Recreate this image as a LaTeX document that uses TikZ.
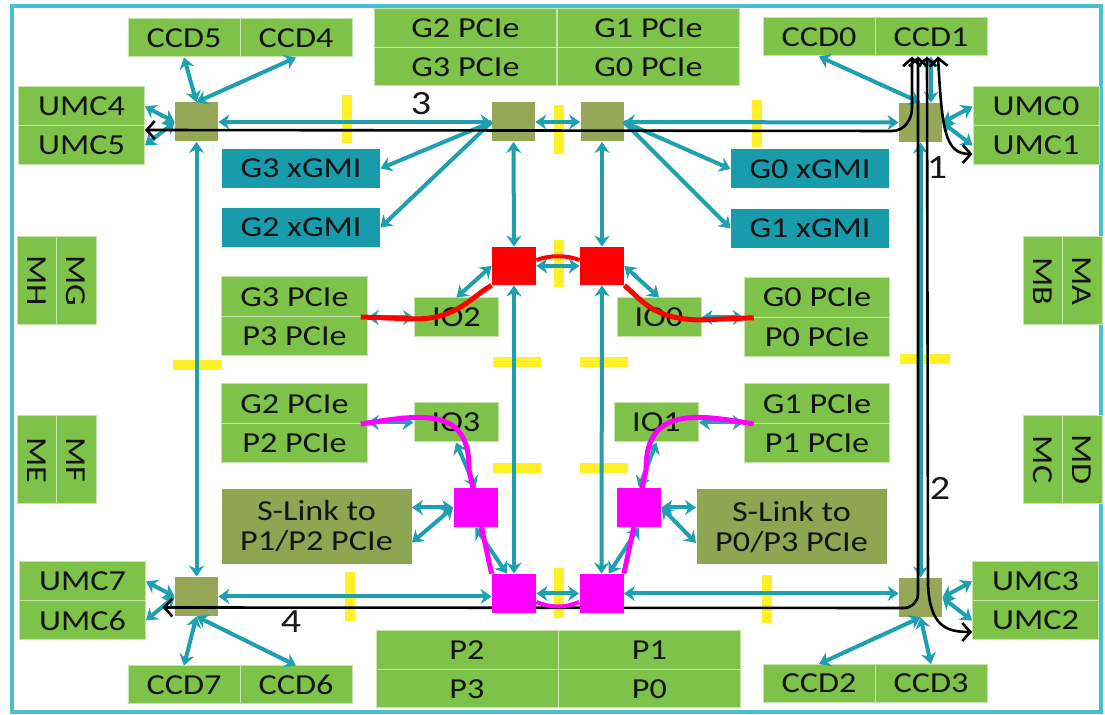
\documentclass[tikz,border=0pt]{standalone}
\usepackage{fontspec}
\setmainfont[FakeStretch=1.18]{Carlito}
\usepackage{tikz}
\usetikzlibrary{arrows.meta, calc}
\definecolor{blkgreen}{RGB}{126,194,74}
\definecolor{hubolive}{RGB}{150,168,88}
\definecolor{slinkolive}{RGB}{142,166,82}
\definecolor{gmiteal}{RGB}{24,156,172}
\definecolor{linkteal}{RGB}{30,160,176}
\definecolor{frameteal}{RGB}{72,192,205}
\definecolor{baryellow}{RGB}{255,240,40}
\definecolor{pathred}{RGB}{255,0,0}
\definecolor{pathmag}{RGB}{255,0,255}
\pgfdeclarelayer{bg}
\pgfdeclarelayer{fg}
\pgfsetlayers{bg,main,fg}

\begin{document}
\begin{tikzpicture}[
    x=0.5pt, y=-0.5pt,
    cell/.style={fill=blkgreen, draw=blkgreen!45!white, line width=0.5pt, inner sep=0pt,
                 text=black!92, font=\fontsize{14.5}{15}\selectfont},
    ccd/.style={cell, minimum width=56pt, minimum height=19pt},
    umc/.style={cell, minimum width=63pt, minimum height=19.5pt},
    gpcie/.style={cell, minimum width=91pt, minimum height=19.25pt},
    pcie/.style={cell, minimum width=72.75pt, minimum height=19.75pt},
    mem/.style={cell, rotate=-90, minimum width=44pt, minimum height=19.75pt},
    io/.style={cell, minimum width=42pt, minimum height=19.5pt},
    gmi/.style={cell, fill=gmiteal, draw=none, minimum width=79pt, minimum height=19.5pt},
    slink/.style={cell, fill=slinkolive, draw=none, minimum width=95pt, minimum height=37.5pt, align=center},
    hub/.style={fill=hubolive, minimum width=21.5pt, minimum height=19.5pt, inner sep=0pt},
    redsq/.style={fill=pathred, minimum width=22pt, minimum height=19pt, inner sep=0pt},
    magsq/.style={fill=pathmag, minimum width=22pt, minimum height=19.5pt, inner sep=0pt},
    link/.style={linkteal, line width=2pt, {Stealth[length=5.5pt,width=7.5pt]}-{Stealth[length=5.5pt,width=7.5pt]}},
    tolink/.style={linkteal, line width=2pt, -{Stealth[length=5.5pt,width=7.5pt]}},
    route/.style={line width=1.3pt, {Straight Barb[length=4pt,width=9pt]}-{Straight Barb[length=4pt,width=9pt]}},
    fence/.style={baryellow, line width=5pt},
    hopnum/.style={font=\fontsize{17}{17}\selectfont, text=black!90}
]
    \useasboundingbox (0,0) rectangle (1105,715);

    \begin{pgfonlayer}{bg}
    \draw[frameteal, line width=1.6pt] (12,6) rectangle (1101,712);
    % die-to-die boundaries
    \foreach \ax/\ay/\bx/\by in {347/95/347/143, 559/105/559/154, 757/100/757/147, 559/240/559/287,
        493/362/541/362, 580/362/628/362, 493/468/541/468, 580/468/628/468,
        173/365/222/365, 900/359/950/359, 350/572/350/621, 559/568/559/618, 767/575/767/623}
        \draw[fence] (\ax,\ay) -- (\bx,\by);
    \end{pgfonlayer}

    % top row
    \node[ccd] (ccd5) at (184,38) {CCD5};
    \node[ccd] (ccd4) at (296,38) {CCD4};
    \node[gpcie] (g2top) at (465.5,28.25) {G2 PCIe};
    \node[gpcie] (g1top) at (648.5,28.25) {G1 PCIe};
    \node[gpcie] (g3top) at (465.5,66.75) {G3 PCIe};
    \node[gpcie] (g0top) at (648.5,66.75) {G0 PCIe};
    \node[ccd] (ccd0) at (819,37) {CCD0};
    \node[ccd] (ccd1) at (931,37) {CCD1};
    \node[umc] (umc4) at (81.5,106.5) {UMC4};
    \node[umc] (umc5) at (81.5,145.5) {UMC5};
    \node[umc] (umc0) at (1036,106.5) {UMC0};
    \node[umc] (umc1) at (1036,145.5) {UMC1};

    % hubs
    \node[hub] (hubTL) at (196.5,122) {};
    \node[hub] (hubTC1) at (513.5,122) {};
    \node[hub] (hubTC2) at (602,122) {};
    \node[hub] (hubTR) at (920.5,122.5) {};
    \node[hub] (hubBL) at (196.5,596.5) {};
    \node[hub] (hubBR) at (920.5,597.5) {};

    % xGMI
    \node[gmi] (g3gmi) at (301,168.5) {G3 xGMI};
    \node[gmi] (g2gmi) at (301,227.5) {G2 xGMI};
    \node[gmi] (g0gmi) at (810,169) {G0 xGMI};
    \node[gmi] (g1gmi) at (810,228.5) {G1 xGMI};

    % memory channels
    \node[mem] (mh) at (36.75,281) {MH};
    \node[mem] (mg) at (76.25,281) {MG};
    \node[mem] (me) at (36.75,460) {ME};
    \node[mem] (mf) at (76.25,460) {MF};
    \node[mem] (mb) at (1042.75,281) {MB};
    \node[mem] (ma) at (1082.25,281) {MA};
    \node[mem] (mc) at (1042.75,459.5) {MC};
    \node[mem] (md) at (1082.25,459.5) {MD};

    % PCIe blocks and IO
    \node[pcie] (g3pcie) at (294.5,296.75) {G3 PCIe};
    \node[pcie] (p3pcie) at (294.5,336.25) {P3 PCIe};
    \node[pcie] (g2pcie) at (294.5,403.75) {G2 PCIe};
    \node[pcie] (p2pcie) at (294.5,443.25) {P2 PCIe};
    \node[pcie] (g0pcie) at (817,297.5) {G0 PCIe};
    \node[pcie] (p0pcie) at (817,337) {P0 PCIe};
    \node[pcie] (g1pcie) at (817,403.75) {G1 PCIe};
    \node[pcie] (p1pcie) at (817,443.25) {P1 PCIe};
    \node[io] (io2) at (456.5,317.5) {IO2};
    \node[io] (io0) at (659,317.5) {IO0};
    \node[io] (io3) at (456,422.5) {IO3};
    \node[io] (io1) at (656.5,422.5) {IO1};
    \node[slink] (slinkL) at (316.5,526.5) {S-Link to\\P1/P2 PCIe};
    \node[slink] (slinkR) at (791.5,527) {S-Link to\\P0/P3 PCIe};

    % bottom row
    \node[umc] (umc7) at (82.5,581.5) {UMC7};
    \node[umc] (umc6) at (82.5,620.5) {UMC6};
    \node[umc] (umc3) at (1035.5,581.5) {UMC3};
    \node[umc] (umc2) at (1035.5,620.5) {UMC2};
    \node[ccd] (ccd7) at (184,685) {CCD7};
    \node[ccd] (ccd6) at (296,685) {CCD6};
    \node[ccd] (ccd2) at (819,683.5) {CCD2};
    \node[ccd] (ccd3) at (931,683.5) {CCD3};
    \node[gpcie] (p2bot) at (467,650.25) {P2};
    \node[gpcie] (p1bot) at (649.5,650.25) {P1};
    \node[gpcie] (p3bot) at (467,688.75) {P3};
    \node[gpcie] (p0bot) at (649.5,688.75) {P0};

    \begin{pgfonlayer}{fg}
    \node[redsq] (redL) at (514,266) {};
    \node[redsq] (redR) at (602,266) {};
    \node[magsq] (magUL) at (475.5,507.5) {};
    \node[magsq] (magUR) at (639,507.5) {};
    \node[magsq] (magLL) at (514,593.5) {};
    \node[magsq] (magLR) at (601.5,593.5) {};
    \end{pgfonlayer}

    % ring
    \draw[link] (hubTL.east) -- (hubTC1.west);
    \draw[link] (hubTC1.east) -- (hubTC2.west);
    \draw[link] (hubTC2.east) -- (hubTR.west);
    \draw[link] (hubTL.south) -- (hubBL.north);
    \draw[link] (hubTR.south) -- (hubBR.north);
    \draw[link] (hubBL.east) -- (hubBL.east -| magLL.west);
    \draw[link] (magLL.east) -- (magLR.west);
    \draw[link] (magLR.east) -- (magLR.east -| hubBR.west);
    \draw[link] (hubTC1.south) -- (redL.north);
    \draw[link] (hubTC2.south) -- (redR.north);
    \draw[link] (redL.east) -- (redR.west);
    \draw[link] (redL.south) -- (magLL.north);
    \draw[link] (redR.south) -- (magLR.north);

    % CCDs and UMCs
    \draw[link] (hubTL.north) -- (ccd5.south);
    \draw[link] (hubTL.north) -- (ccd4.south);
    \draw[link] (hubTL.west) -- (umc4.east);
    \draw[link] (hubTL.west) -- (umc5.east);
    \draw[link] (hubTR.north) -- (ccd0.south);
    \draw[link] (ccd1.south) -- (ccd1.south |- hubTR.north);
    \draw[link] (hubTR.east) -- (umc0.west);
    \draw[link] (hubTR.east) -- (umc1.west);
    \draw[link] (hubBL.west) -- (umc7.east);
    \draw[link] (hubBL.west) -- (umc6.east);
    \draw[link] (hubBL.south) -- (ccd7.north);
    \draw[link] (hubBL.south) -- (ccd6.north);
    \draw[link] (hubBR.east) -- (umc3.west);
    \draw[link] (hubBR.east) -- (umc2.west);
    \draw[link] (hubBR.south) -- (ccd2.north);
    \draw[link] (hubBR.south) -- (ccd3.north);

    % xGMI, IO, S-Link
    \draw[tolink] (hubTC1.west) -- (g3gmi.east);
    \draw[tolink] (hubTC1.west) -- (g2gmi.east);
    \draw[tolink] (hubTC2.east) -- (g0gmi.west);
    \draw[tolink] (hubTC2.east) -- (g1gmi.west);
    \draw[link] (redL.west) -- (io2.north);
    \draw[link] (redR.east) -- (io0.north);
    \draw[link] (io2.west) -- (io2.west -| g3pcie.east);
    \draw[link] (io0.east) -- (io0.east -| g0pcie.west);
    \draw[link] (io3.west) -- (io3.west -| g2pcie.east);
    \draw[link] (io1.east) -- (io1.east -| g1pcie.west);
    \draw[link] (io3.south) -- (magUL.north);
    \draw[link] (io1.south) -- (magUR.north);
    \draw[link] (magUL.south) -- (magLL.110);
    \draw[link] (magUR.south) -- (magLR.70);
    \draw[link] (magUL.west) -- (magUL.west -| slinkL.east);
    \draw[link] (magUL.west) -- ($(slinkL.east)+(0,16)$);
    \draw[link] (magUR.east) -- (magUR.east -| slinkR.west);
    \draw[link] (magUR.east) -- ($(slinkR.west)+(0,16)$);

    % CCD1 routes
    \draw[route] ([xshift=3.5pt]ccd1.south) .. controls (942,130) and (945,154) .. (umc1.west |- 0,154);
    \draw[route] ([xshift=-2pt]ccd1.south) -- (928,585) .. controls (930,625) and (945,632) .. (umc2.west |- 0,632);
    \draw[route] ([xshift=-9.5pt]ccd1.south) -- (912,108) to[out=-90,in=0] (892,131) -- (umc5.north east |- 0,130);
    \draw[route] ([xshift=-6.5pt]ccd1.south) -- (918,594) to[out=-90,in=0] (904,608) -- ($(hubBL.west)+(-12,11)$);
    \node[hopnum] (hop1) at (937,168) {1};
    \node[hopnum] (hop2) at (940,488) {2};
    \node[hopnum] (hop3) at (421,104) {3};
    \node[hopnum] (hop4) at (291,622) {4};

    \begin{pgfonlayer}{fg}
    \draw[pathred, line width=2.5pt] ([xshift=-3.5pt]g3pcie.south east) -- (415,319)
        .. controls (458,319) and (472,296) .. (redL.south west);
    \draw[pathred, line width=2pt] (redL.east |- 0,260) .. controls (550,255) and (566,255) .. (redR.west |- 0,260);
    \draw[pathred, line width=2.5pt] (redR.south east) .. controls (642,300) and (652,319) .. (700,320)
        -- ([xshift=5pt]g0pcie.south west);
    \draw[pathmag, line width=2.5pt] ([xshift=-3.5pt]g2pcie.south east) .. controls (420,415) and (470,405)
        .. (469,470) -- (magLL.north west);
    \draw[pathmag, line width=2pt] (magLL.east |- 0,602) .. controls (552,608) and (564,608) .. (magLR.west |- 0,602);
    \draw[pathmag, line width=2.5pt] (magLR.north east) -- (646,470) .. controls (645,405) and (700,415)
        .. ([xshift=5pt]g1pcie.south west);
    \end{pgfonlayer}
\end{tikzpicture}
\end{document}
